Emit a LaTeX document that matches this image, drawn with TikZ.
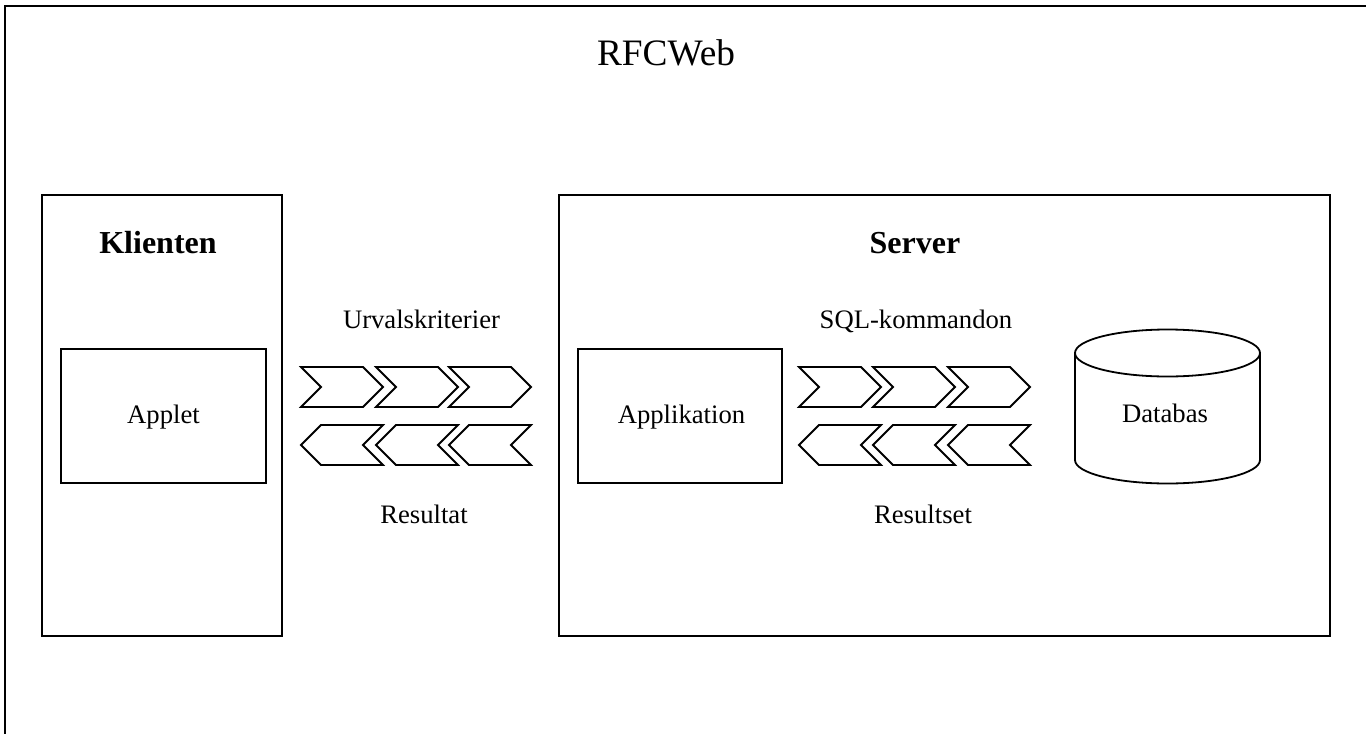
\documentclass[tikz,border=0pt]{standalone}
\usepackage{fontspec}
\setmainfont{Liberation Serif}
\begin{document}
\begin{tikzpicture}[x=1pt,y=-1pt,
  frame/.style={draw=black,line width=1.8pt},
  box/.style={draw=black,line width=1.8pt,fill=white,inner sep=0pt},
  txt/.style={inner sep=0pt,anchor=base,font=\fontsize{26.67}{32}\selectfont},
  head/.style={inner sep=0pt,anchor=base,font=\fontsize{32}{38}\selectfont\bfseries},
  chev/.style={draw=black,line width=1.8pt,line join=miter,fill=white},
  chevR/.pic={\draw[chev] (0,0) -- (62,0) -- (82,20) -- (62,40) -- (0,40) -- (20,20) -- cycle;},
  chevL/.pic={\draw[chev] (0,20) -- (20,0) -- (82,0) -- (62,20) -- (82,40) -- (20,40) -- cycle;}
]
\useasboundingbox (0,0) rectangle (1366,734);
\fill[white] (0,0) rectangle (1366,734);

% outer frame (top and left edges)
\draw[frame] (1366,6) -- (5,6) -- (5,734);
\node[inner sep=0pt,anchor=base,font=\fontsize{37.3}{44}\selectfont] (title) at (666,65) {RFCWeb};

% client side
\node[box,minimum width=240pt,minimum height=441pt] (klient) at (162,415.5) {};
\node[head] (klientT) at (158,253) {Klienten};
\node[box,minimum width=205pt,minimum height=134pt] (applet) at (163.5,416) {};
\node[txt] (appletT) at (163.5,423) {Applet};

% server side
\node[box,minimum width=771pt,minimum height=441pt] (server) at (944.5,415.5) {};
\node[head] (serverT) at (915,253) {Server};
\node[box,minimum width=204pt,minimum height=134pt] (app) at (680,416) {};
\node[txt] (appT) at (681.5,423) {Applikation};

% database cylinder
\draw[line width=1.8pt,fill=white] (1075,353) -- (1075,460)
  arc[start angle=180,end angle=360,x radius=92.5pt,y radius=23.5pt] -- (1260,353);
\draw[line width=1.8pt] (1167.5,353) ellipse[x radius=92.5pt,y radius=23.5pt];
\node[txt] (db) at (1165,422) {Databas};

% client <-> application messages
\node[txt] (urval) at (421.5,328) {Urvalskriterier};
\pic at (301,367) {chevR};
\pic at (376,367) {chevR};
\pic at (449,367) {chevR};
\pic at (301,425) {chevL};
\pic at (376,425) {chevL};
\pic at (449,425) {chevL};
\node[txt] (res) at (424,523) {Resultat};

% application <-> database messages
\node[txt] (sql) at (916,328) {SQL-kommandon};
\pic at (799,367) {chevR};
\pic at (873,367) {chevR};
\pic at (948,367) {chevR};
\pic at (799,425) {chevL};
\pic at (873,425) {chevL};
\pic at (948,425) {chevL};
\node[txt] (rset) at (923,523) {Resultset};
\end{tikzpicture}
\end{document}
